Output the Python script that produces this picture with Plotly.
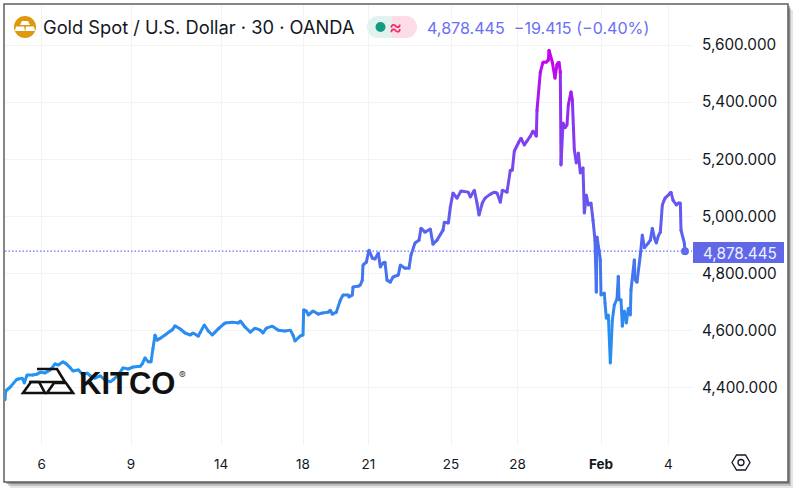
""" Gold spot 30 minute chart, TradingView style
"""
import plotly.graph_objects as go

# 30 minute bar number and price
bars = [0, 1, 8, 17, 20, 26, 29, 33, 42, 48, 53, 60, 68, 75, 80, 87, 92, 98, 102, 110,
        117, 123, 128, 135, 143, 150, 158, 162, 170, 177, 185, 192, 203, 206, 210, 215,
        219, 222, 225, 228, 233, 240, 248, 251, 255, 263, 270, 278, 282, 290, 293, 299,
        305, 311, 315, 321, 330, 341, 350, 353, 360, 368, 375, 383, 387, 392, 401, 410,
        420, 428, 432, 435, 443, 447, 448, 452, 455, 462, 470, 476, 485, 488, 491, 497,
        503, 507, 515, 516, 521, 522, 530, 533, 536, 537, 542, 546, 551, 555, 560, 563,
        567, 570, 573, 578, 582, 590, 593, 600, 606, 609, 615, 621, 624, 630, 638, 642,
        648, 657, 659, 665, 668, 672, 678, 684, 695, 698, 704, 708, 711, 716, 720, 728,
        734, 738, 743, 746, 753, 758, 761, 764, 770, 774, 779, 783, 788, 792, 797, 798,
        803, 807, 812, 815, 816, 821, 825, 828, 831, 833, 834, 837, 840, 843, 845, 849,
        851, 854, 857, 860, 863, 867, 869, 872, 875, 879, 882, 885, 887, 888, 891, 893,
        894, 899, 900, 902, 905, 908, 911, 914, 918, 920, 921, 924, 926, 929, 932, 935,
        938, 939, 944, 945, 948, 953, 956, 959, 965, 968, 971, 974, 977, 980, 983, 986,
        990, 995, 999, 1002, 1007, 1010, 1013, 1014, 1019, 1020]
prices = [4358, 4389, 4403, 4428, 4431, 4434, 4417, 4445, 4445, 4448, 4455, 4452, 4463, 4484,
          4480, 4491, 4484, 4470, 4459, 4463, 4445, 4452, 4442, 4434, 4442, 4428, 4421, 4428,
          4445, 4470, 4466, 4473, 4476, 4484, 4505, 4491, 4491, 4539, 4585, 4567, 4574, 4585,
          4599, 4603, 4617, 4606, 4592, 4585, 4592, 4581, 4595, 4620, 4599, 4585, 4595, 4609,
          4627, 4630, 4627, 4634, 4613, 4595, 4609, 4602, 4592, 4609, 4616, 4602, 4599, 4602,
          4585, 4564, 4582, 4585, 4673, 4669, 4655, 4669, 4658, 4662, 4665, 4672, 4658, 4665,
          4707, 4725, 4725, 4718, 4725, 4753, 4756, 4760, 4777, 4830, 4840, 4882, 4854, 4851,
          4872, 4823, 4837, 4840, 4777, 4770, 4788, 4795, 4830, 4819, 4819, 4865, 4907, 4917,
          4959, 4945, 4956, 4903, 4917, 4952, 4980, 4977, 5033, 5082, 5064, 5089, 5085, 5068,
          5092, 5047, 5005, 5047, 5064, 5078, 5085, 5082, 5050, 5092, 5085, 5162, 5162, 5229,
          5257, 5274, 5250, 5264, 5281, 5299, 5281, 5372, 5505, 5540, 5540, 5547, 5582, 5540,
          5484, 5533, 5540, 5505, 5180, 5327, 5310, 5320, 5390, 5436, 5408, 5233, 5187, 5222,
          5152, 5170, 5012, 5075, 5040, 5047, 4987, 4917, 4735, 4928, 4882, 4847, 4725, 4732,
          4697, 4644, 4655, 4487, 4637, 4690, 4711, 4791, 4708, 4708, 4616, 4669, 4627, 4679,
          4655, 4743, 4848, 4778, 4770, 4865, 4935, 4890, 4907, 4917, 4959, 4925, 4907, 4932,
          4945, 5040, 5064, 5075, 5085, 5057, 5040, 5047, 5047, 4952, 4907, 4878.445]

y_ticks = [4400, 4600, 4800, 5000, 5200, 5400, 5600]
x_tick_bars = [55, 189, 324, 447, 545, 669, 769, 894, 995]
x_tick_labels = ["6", "9", "14", "18", "21", "25", "28", "<b>Feb</b>", "4"]
last_price = 4878.445

TITLE = "Gold Spot / U.S. Dollar · 30 · OANDA"
QUOTE = "4,878.445  −19.415 (−0.40%)"
FONT = "Inter"
INDIGO = "#6a70f5"

# price -> colour stops of the line gradient
grad_prices = [4400, 4650, 4880, 5100, 5300, 5450, 5580]
grad_colors = [(33, 150, 243), (46, 137, 240), (80, 106, 240), (112, 80, 240),
               (130, 60, 240), (175, 20, 240), (204, 0, 240)]


def line_color(v):
    if v <= grad_prices[0]:
        return "rgb{}".format(grad_colors[0])
    for i in range(1, len(grad_prices)):
        if v <= grad_prices[i]:
            t = (v - grad_prices[i - 1]) / (grad_prices[i] - grad_prices[i - 1])
            c = [round(a + (b - a) * t) for a, b in zip(grad_colors[i - 1], grad_colors[i])]
            return "rgb({},{},{})".format(*c)
    return "rgb{}".format(grad_colors[-1])


# plot area in page pixels
LEFT, RIGHT, TOP, BOTTOM = 5, 692, 5, 445


def fx(px):
    return (px - LEFT) / (RIGHT - LEFT)


def fy(py):
    return (BOTTOM - py) / (BOTTOM - TOP)


def pixel_path(points, close=True):
    d = "M " + " L ".join("{:.4f},{:.4f}".format(fx(x), fy(y)) for x, y in points)
    return d + (" Z" if close else "")


def rect(x0, y0, x1, y1, **kw):
    return dict(type="rect", xref="paper", yref="paper", x0=fx(x0), x1=fx(x1),
                y0=fy(y0), y1=fy(y1), **kw)


def circle(cx, cy, r, color):
    return dict(type="circle", xref="paper", yref="paper", x0=fx(cx - r), x1=fx(cx + r),
                y0=fy(cy - r), y1=fy(cy + r), fillcolor=color, line_width=0)


def path(points, fill="rgba(0,0,0,0)", color="black", width=0, close=True):
    return dict(type="path", xref="paper", yref="paper", path=pixel_path(points, close),
                fillcolor=fill, line=dict(color=color, width=width))


def label(px, py, text, size, color="#131722", anchor="left", family=FONT):
    return dict(xref="paper", yref="paper", x=fx(px), y=fy(py), text=text, showarrow=False,
                xanchor=anchor, yanchor="middle", font=dict(family=family, size=size, color=color))


fig = go.Figure()

# one piece per step so the colour can follow the price
for i in range(len(bars) - 1):
    fig.add_trace(go.Scatter(
        x=bars[i:i + 2], y=prices[i:i + 2], mode="lines", hoverinfo="skip",
        line=dict(color=line_color((prices[i] + prices[i + 1]) / 2), width=3)))
fig.add_trace(go.Scatter(
    x=bars, y=prices, mode="markers", hoverinfo="skip",
    marker=dict(size=3, color=[line_color(p) for p in prices])))
fig.add_trace(go.Scatter(
    x=bars[-1:], y=[last_price], mode="markers", hoverinfo="skip",
    marker=dict(size=8, color="#6068ee")))

shapes = [
    # card shadow and frame
    rect(10, 10, 793, 488, fillcolor="rgba(0,0,0,0.10)", line_width=0, layer="below"),
    rect(8, 8, 791, 486, fillcolor="rgba(0,0,0,0.16)", line_width=0, layer="below"),
    rect(6, 6, 790, 484, fillcolor="rgba(0,0,0,0.28)", line_width=0, layer="below"),
    rect(4, 4, 788, 482, fillcolor="white", line=dict(color="#5f5f5f", width=1.5), layer="below"),
    # last price line and tag
    dict(type="line", xref="paper", yref="y", x0=0, x1=1, y0=last_price, y1=last_price,
         line=dict(color="#6a72ff", width=1.2, dash="1.5px,2px")),
    rect(693, 242, 784, 263, fillcolor="#6068e8", line_width=0),
    # symbol badge
    circle(25, 27, 11, "#dd9a0e"),
    path([(22, 21), (28, 21), (30, 25), (20, 25)], fill="white"),
    path([(16, 26.5), (24, 26.5), (25, 31), (15, 31)], fill="white"),
    path([(26, 26.5), (34, 26.5), (35, 31), (25.5, 31)], fill="white"),
    # status pill
    circle(378, 27, 11, "#e2f3ef"),
    rect(378, 16, 392, 38, fillcolor="#e2f3ef", line_width=0),
    rect(392, 16, 406, 38, fillcolor="#fcdde6", line_width=0),
    circle(406, 27, 11, "#fcdde6"),
    circle(380.5, 27, 5, "#119c80"),
    # settings hexagon
    path([(732, 462.5), (736.5, 455), (745.5, 455), (750, 462.5), (745.5, 470), (736.5, 470)],
         color="#131722", width=1.3),
    dict(type="circle", xref="paper", yref="paper", x0=fx(738), x1=fx(744), y0=fy(459.5),
         y1=fy(465.5), line=dict(color="#131722", width=1.3)),
    # logo bars
    path([(37, 369), (57, 369), (65, 382), (29, 382)], color="#111111", width=2.6, close=False),
    path([(23, 393), (31, 382), (39, 382), (45, 393)], color="#111111", width=2.6),
    path([(47, 393), (54, 383), (66, 383), (73, 393)], color="#111111", width=2.6),
]

annotations = [
    label(41, 27, TITLE, 18.3),
    label(425, 27.5, QUOTE, 16.1, color=INDIGO),
    label(395.5, 27, "≈", 20, color="#ef2f6b", anchor="center"),
    label(701, 253, "4,878.445", 15.3, color="#eef0ff"),
    label(77, 383, "<b>KITCO</b>", 31, color="#111111", family="Liberation Sans"),
    label(177, 375, "®", 10, color="#444444"),
]

fig.update_layout(
    width=800, height=494, autosize=False,
    margin=dict(l=LEFT, r=800 - RIGHT, t=TOP, b=494 - BOTTOM),
    paper_bgcolor="white", plot_bgcolor="rgba(0,0,0,0)",
    showlegend=False, shapes=shapes, annotations=annotations,
    font=dict(family=FONT, size=14, color="#131722"))
fig.update_xaxes(
    range=[0, 1030.5], tickmode="array", tickvals=x_tick_bars, ticktext=x_tick_labels,
    showgrid=True, gridcolor="#f2f3f5", gridwidth=1, zeroline=False, showline=False,
    ticks="", ticklabelstandoff=9, tickfont=dict(size=13.5))
fig.update_yaxes(
    range=[4200, 5740], side="right", tickmode="array", tickvals=y_ticks, tickformat=",.3f",
    showgrid=True, gridcolor="#f2f3f5", gridwidth=1, zeroline=False, showline=False,
    ticks="", ticklabelstandoff=9, tickfont=dict(size=15.3))

# the page's default body margin would push the card 8 px off
fig.write_html("out.html", config={"displayModeBar": False},
               post_script="document.body.style.margin='0';")
